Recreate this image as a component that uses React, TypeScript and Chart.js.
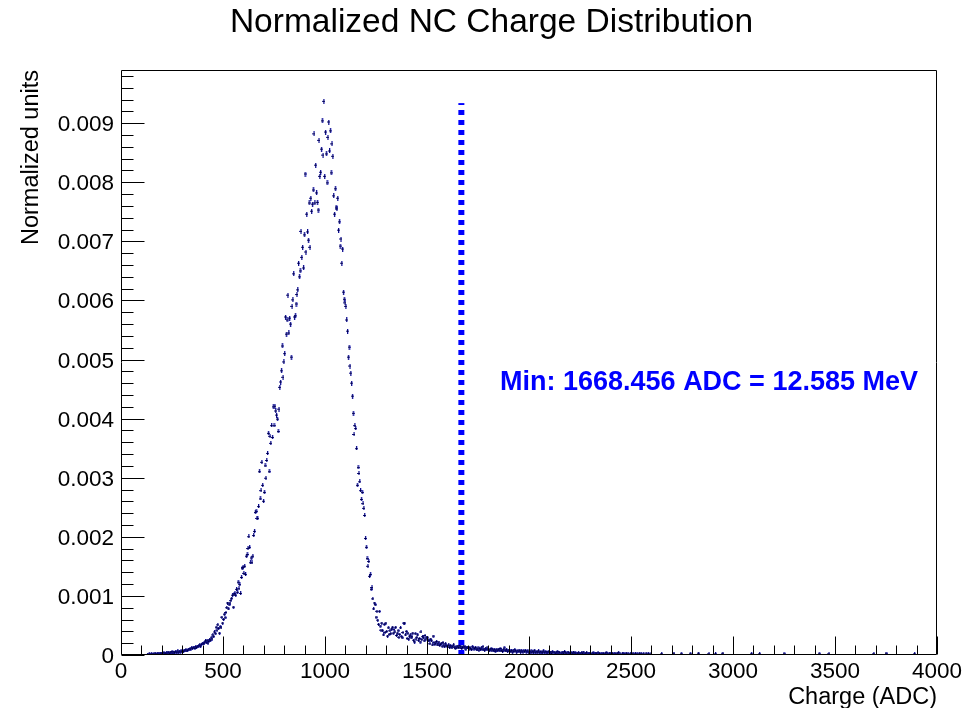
import React, { useEffect, useRef } from 'react';
import { Chart, registerables } from 'chart.js';

Chart.register(...registerables);

// ---------- texts ----------
const chartTitle = 'Normalized NC Charge Distribution';
const xAxisTitle = 'Charge (ADC)';
const yAxisTitle = 'Normalized units';
const annotationText = 'Min: 1668.456 ADC = 12.585 MeV';

// ---------- axes ----------
const xMin = 0;
const xMax = 4000;
const yMin = 0;
const yMax = 0.0099;
const xTickValues = [0, 500, 1000, 1500, 2000, 2500, 3000, 3500, 4000];
const xTickLabels = ['0', '500', '1000', '1500', '2000', '2500', '3000', '3500', '4000'];
const xMinorStep = 100;
const yTickValues = [0, 0.001, 0.002, 0.003, 0.004, 0.005, 0.006, 0.007, 0.008, 0.009];
const yTickLabels = ['0', '0.001', '0.002', '0.003', '0.004', '0.005', '0.006', '0.007', '0.008', '0.009'];
const yMinorStep = 0.0002;

// ---------- minimum marker ----------
const minCharge = 1668.456;
const minLineTop = 0.00934;
const annotationCharge = 1858;
const annotationValue = 0.00448;

// ---------- histogram (bin contents in units of 1e-5) ----------
const binWidth = 4;
const firstBinLow = 100;
const valueUnit = 1e-5;

const rise100to500 = [
  0, 0, 0, 0, 0, 0, 0, 1, 0, 2, 1, 0, 2, 1, 1, 3, 0, 2, 1, 2, 3, 1, 2, 3, 2,
  3, 2, 4, 3, 2, 4, 3, 5, 4, 3, 5, 4, 6, 3, 5, 4, 6, 5, 4, 7, 5, 6, 5, 7, 6,
  7, 6, 8, 7, 9, 7, 8, 10, 9, 11, 10, 12, 11, 13, 12, 11, 14, 13, 15, 14, 16, 17, 15, 18, 19,
  20, 19, 22, 24, 21, 25, 20, 23, 26, 25, 29, 27, 34, 31, 39, 36, 47, 42, 51, 45, 37, 48, 46, 64, 54,
];

const rise500to900 = [
  60, 69, 63, 72, 80, 88, 78, 85, 88, 92, 96, 102, 81, 103, 105, 102, 112, 107, 124, 113, 120, 105, 132, 147, 149,
  139, 151, 137, 168, 171, 181, 201, 183, 157, 165, 157, 168, 203, 210, 242, 244, 232, 232, 252, 311, 265, 279, 327, 288, 261,
  276, 321, 300, 330, 342, 376, 311, 371, 359, 389, 369, 420, 389, 421, 413, 406, 400, 379, 416, 453, 462, 481, 523, 470, 496,
  510, 572, 543, 567, 609, 545, 570, 560, 504, 590, 601, 645, 572, 574, 594, 610, 618, 663, 640, 650, 717, 673, 690, 655, 711,
];

const peak900to1200 = [
  814, 682, 746, 716, 702, 765, 690, 773, 751, 763, 787, 882, 765, 829, 782, 766, 753, 871, 810, 817, 856, 904, 846, 937, 810,
  885, 848, 799, 876, 902, 853, 887, 816, 865, 844, 777, 746, 789, 758, 755, 773, 719, 733, 692, 704, 663, 687, 614, 602, 596,
  590, 567, 548, 504, 521, 489, 477, 460, 438, 409, 374, 389, 384, 350, 288, 318, 308, 294, 279, 264, 276, 257, 249, 237, 198,
];

const fall1200to1500 = [
  183, 164, 151, 159, 134, 137, 112, 115, 95, 78, 88, 85, 64, 74, 59, 52, 74, 49, 42, 54, 41, 34, 52, 38, 54,
  40, 32, 46, 35, 41, 36, 44, 47, 37, 43, 39, 47, 33, 37, 41, 30, 35, 46, 31, 29, 38, 54, 54, 34, 40,
  28, 37, 27, 32, 34, 29, 31, 37, 25, 22, 36, 27, 30, 34, 25, 28, 22, 39, 26, 31, 29, 24, 33, 27, 30,
];

const tail1500to2000 = [
  29, 24, 25, 19, 27, 24, 17, 32, 21, 18, 20, 23, 17, 19, 22, 16, 18, 20, 15, 21, 17, 14, 19, 16, 15,
  15, 17, 13, 16, 14, 12, 15, 17, 13, 11, 14, 12, 15, 13, 16, 12, 14, 11, 13, 15, 12, 14, 10, 13, 12,
  12, 10, 13, 11, 9, 14, 12, 10, 11, 13, 9, 10, 12, 8, 11, 10, 12, 9, 14, 10, 8, 11, 9, 12, 10,
  10, 8, 9, 11, 7, 10, 8, 9, 6, 8, 10, 7, 9, 8, 11, 7, 8, 6, 9, 12, 8, 7, 9, 6, 7,
  7, 8, 6, 7, 5, 8, 6, 9, 7, 5, 6, 8, 6, 7, 5, 8, 6, 5, 7, 6, 8, 5, 6, 7, 5,
];

const tail2000to2600 = [
  6, 5, 7, 4, 6, 5, 8, 5, 4, 6, 5, 7, 4, 5, 6, 4, 5, 7, 5, 4, 6, 5, 4, 6, 5,
  4, 5, 3, 6, 4, 0, 5, 3, 4, 6, 3, 5, 4, 0, 3, 5, 4, 3, 6, 4, 3, 0, 5, 4, 3,
  3, 4, 0, 3, 5, 3, 4, 2, 0, 3, 4, 3, 0, 2, 4, 3, 5, 0, 3, 2, 4, 0, 3, 2, 3,
  2, 0, 3, 4, 2, 0, 3, 2, 0, 4, 2, 3, 0, 2, 0, 3, 2, 0, 3, 4, 0, 2, 0, 3, 2,
  0, 2, 3, 0, 2, 0, 3, 0, 2, 4, 0, 2, 0, 0, 3, 2, 0, 2, 0, 3, 0, 2, 0, 0, 2,
  2, 0, 3, 0, 0, 2, 0, 2, 0, 0, 3, 0, 2, 0, 0, 2, 0, 0, 3, 0, 0, 2, 0, 0, 2,
];

const sparseTailCharge = [2650, 2710, 2746, 2790, 2830, 2882, 2914, 2950, 3090, 3130, 3250, 3422, 3470, 3690, 3750, 3890];
const sparseTailValues = [2, 3, 2, 2, 3, 2, 2, 3, 2, 2, 2, 2, 2, 2, 3, 2];

// ---------- styles ----------
const FONT = "'Liberation Sans', Arial, Helvetica, sans-serif";
const markerColor = '#0c0c88';
const minLineColor = '#0000ff';

function buildHistPoints() {
  const binned = [
    ...rise100to500,
    ...rise500to900,
    ...peak900to1200,
    ...fall1200to1500,
    ...tail1500to2000,
    ...tail2000to2600,
  ];
  const pts: { x: number; y: number }[] = [];
  binned.forEach((v, i) => {
    if (v > 0) pts.push({ x: firstBinLow + (i + 0.5) * binWidth, y: v * valueUnit });
  });
  sparseTailCharge.forEach((c, i) => {
    pts.push({ x: c, y: sparseTailValues[i] * valueUnit });
  });
  return pts;
}

function makeMarker(h: number) {
  const c = document.createElement('canvas');
  c.width = 3;
  c.height = h;
  const ctx = c.getContext('2d')!;
  ctx.fillStyle = 'rgba(40,40,200,0.35)';
  ctx.fillRect(2, 0, 1, h);
  ctx.fillStyle = markerColor;
  ctx.fillRect(1, 0, 1, h);
  ctx.fillRect(0, Math.floor(h / 2), 3, 1);
  ctx.fillStyle = '#000018';
  ctx.fillRect(1, Math.floor(h / 2), 1, 1);
  return c;
}

const rootStylePlugin = {
  id: 'rootStyle',
  afterDatasetsDraw(chart: any) {
    const { ctx, chartArea: a, scales } = chart;
    const xs = scales.x;
    const ys = scales.y;
    ctx.save();
    ctx.strokeStyle = '#000';
    ctx.lineWidth = 1;
    // frame
    const L = Math.round(a.left) + 0.5;
    const T = Math.round(a.top) + 0.5;
    const R = Math.round(a.right) - 0.5;
    const B = Math.round(a.bottom) - 0.5;
    ctx.beginPath();
    ctx.moveTo(L, T);
    ctx.lineTo(R, T);
    ctx.lineTo(R, B);
    ctx.lineTo(L, B);
    ctx.closePath();
    ctx.stroke();

    // x ticks (inward)
    ctx.beginPath();
    for (let v = xMin; v <= xMax + 1e-9; v += xMinorStep) {
      const px = Math.round(xs.getPixelForValue(v)) + 0.5;
      const major = xTickValues.some((t) => Math.abs(t - v) < 1e-6);
      ctx.moveTo(px, B);
      ctx.lineTo(px, B - (major ? 18 : 9));
    }
    // y ticks (inward)
    for (let k = 0; yMin + k * yMinorStep <= yMax + 1e-12; k++) {
      const v = yMin + k * yMinorStep;
      const py = Math.round(ys.getPixelForValue(v)) + 0.5;
      const major = yTickValues.some((t) => Math.abs(t - v) < 1e-9);
      ctx.moveTo(L, py);
      ctx.lineTo(L + (major ? 23 : 12), py);
    }
    ctx.stroke();

    // tick labels
    ctx.fillStyle = '#000';
    ctx.font = `22.5px ${FONT}`;
    ctx.textBaseline = 'alphabetic';
    ctx.textAlign = 'center';
    xTickValues.forEach((v, i) => {
      ctx.fillText(xTickLabels[i], xs.getPixelForValue(v), 678);
    });
    ctx.textAlign = 'right';
    yTickValues.forEach((v, i) => {
      ctx.fillText(yTickLabels[i], 114, ys.getPixelForValue(v) + 8);
    });

    // title
    ctx.textAlign = 'center';
    ctx.font = `33.5px ${FONT}`;
    ctx.fillText(chartTitle, 491.5, 32);

    // axis titles
    ctx.font = `23.5px ${FONT}`;
    ctx.textAlign = 'right';
    ctx.fillText(xAxisTitle, a.right, 704);
    ctx.save();
    ctx.translate(38, a.top);
    ctx.rotate(-Math.PI / 2);
    ctx.textAlign = 'right';
    ctx.fillText(yAxisTitle, 0, 0);
    ctx.restore();

    // annotation
    ctx.font = `bold 27px ${FONT}`;
    ctx.fillStyle = minLineColor;
    ctx.textAlign = 'left';
    ctx.fillText(annotationText, xs.getPixelForValue(annotationCharge), ys.getPixelForValue(annotationValue));
    ctx.restore();
  },
};

export default function App() {
  const canvasRef = useRef<HTMLCanvasElement | null>(null);

  useEffect(() => {
    const canvas = canvasRef.current;
    if (!canvas) return;
    const bigMarker = makeMarker(5);
    const midMarker = makeMarker(4);
    const smallMarker = makeMarker(3);
    const histPoints = buildHistPoints();

    const chart = new Chart(canvas, {
      type: 'scatter',
      data: {
        datasets: [
          {
            type: 'line',
            data: [
              { x: minCharge, y: 0 },
              { x: minCharge, y: minLineTop },
            ],
            showLine: true,
            borderColor: minLineColor,
            borderWidth: 6,
            borderDash: [5, 5],
            borderCapStyle: 'butt',
            pointRadius: 0,
            fill: false,
          } as any,
          {
            data: histPoints,
            pointStyle: (c: any) => {
              const v = c.raw ? c.raw.y : 0;
              if (v > 0.004) return bigMarker;
              if (v > 0.001) return midMarker;
              return smallMarker;
            },
            pointRadius: 2,
            showLine: false,
          } as any,
        ],
      },
      options: {
        animation: false,
        responsive: false,
        devicePixelRatio: 1,
        events: [],
        layout: { padding: { left: 0, top: 70, right: 29, bottom: 0 } },
        plugins: {
          legend: { display: false },
          title: { display: false },
          tooltip: { enabled: false },
        },
        scales: {
          x: {
            type: 'linear',
            min: xMin,
            max: xMax,
            grid: { display: false },
            border: { display: false },
            ticks: { display: false },
            afterFit: (s: any) => {
              s.height = 53;
            },
          },
          y: {
            type: 'linear',
            min: yMin,
            max: yMax,
            grid: { display: false },
            border: { display: false },
            ticks: { display: false },
            afterFit: (s: any) => {
              s.width = 121;
            },
          },
        },
      },
      plugins: [rootStylePlugin],
    } as any);

    return () => chart.destroy();
  }, []);

  return (
    <div style={{ position: 'absolute', left: 0, top: 0, width: 966, height: 708, background: '#fff' }}>
      <canvas ref={canvasRef} width={966} height={708} style={{ display: 'block' }} />
    </div>
  );
}
